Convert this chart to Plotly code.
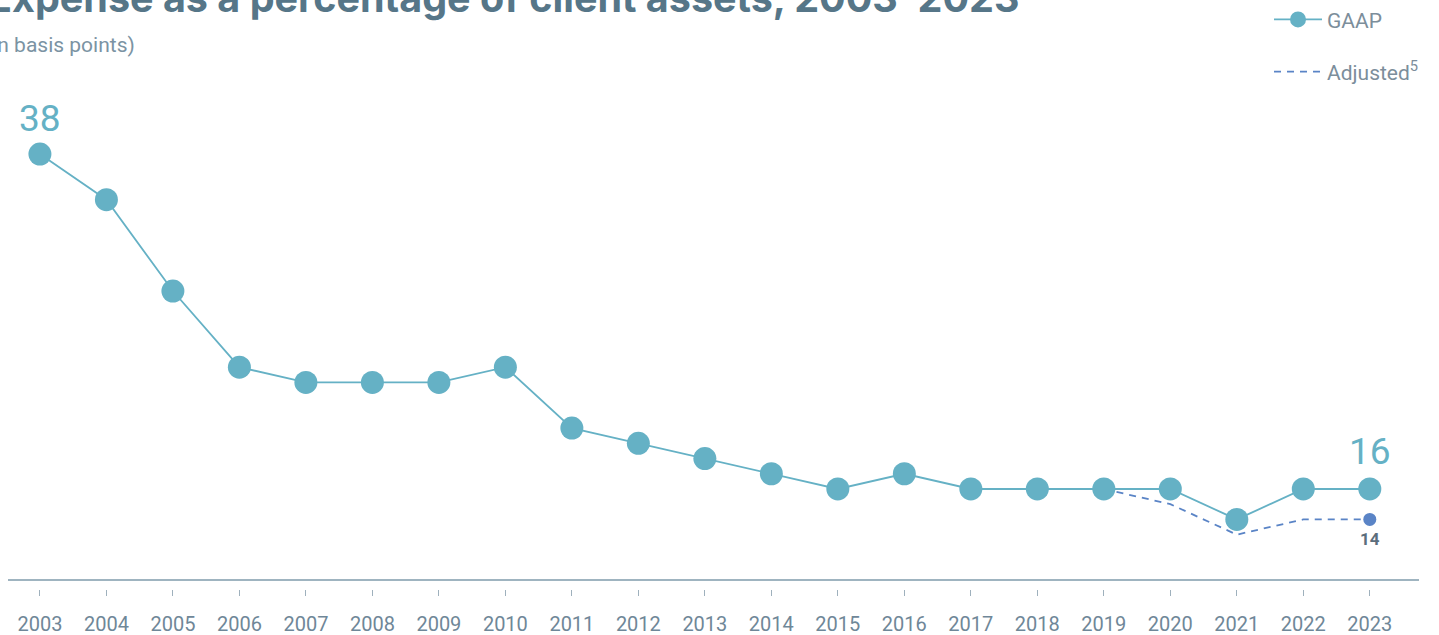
import plotly.graph_objects as go

years = list(range(2003, 2024))
gaap = [38, 35, 29, 24, 23, 23, 23, 24, 20, 19, 18, 17, 16, 17, 16, 16, 16, 16, 14, 16, 16]
adj_years = [2019, 2020, 2021, 2022, 2023]
adjusted = [16, 15, 13, 14, 14]

TEAL = "#65b1c5"
BLUE = "#5a84c6"
AXIS = "#7f9bab"
TXT = "#6f8798"
TITLE = "#567688"
FONT = "Roboto"

fig = go.Figure()
fig.add_trace(go.Scatter(
    x=adj_years, y=adjusted, mode="lines", name="Adjusted<sup>5</sup>",
    line=dict(color=BLUE, width=1.8, dash="7px,6px"), legendgroup="b", legendrank=2,
))
fig.add_trace(go.Scatter(
    x=[adj_years[-1]], y=[adjusted[-1]], mode="markers", showlegend=False,
    marker=dict(color=BLUE, size=13),
))
fig.add_trace(go.Scatter(
    x=years, y=gaap, mode="lines+markers", name="GAAP",
    line=dict(color=TEAL, width=1.8), marker=dict(color=TEAL, size=23),
    legendgroup="a", legendrank=1,
))

fig.add_annotation(x=years[0], y=gaap[0], text=str(gaap[0]), showarrow=False,
                   yshift=36, font=dict(family=FONT, size=37, color=TEAL))
fig.add_annotation(x=years[-1], y=gaap[-1], text=str(gaap[-1]), showarrow=False,
                   yshift=37, font=dict(family=FONT, size=37, color=TEAL))
fig.add_annotation(x=adj_years[-1], y=adjusted[-1], text="<b>%d</b>" % adjusted[-1], showarrow=False,
                   yshift=-20, font=dict(family=FONT, size=17, color="#5b6e7c"))

fig.add_annotation(xref="paper", yref="paper", x=-0.0156, y=1.1554, xanchor="left", yanchor="bottom",
                   text="<b>Expense as a percentage of client assets, 2003–2023</b>", showarrow=False,
                   font=dict(family="Inter", size=39.5, color=TITLE))
fig.add_annotation(xref="paper", yref="paper", x=-0.0178, y=1.1125, xanchor="left", yanchor="middle",
                   text="(in basis points)", showarrow=False,
                   font=dict(family=FONT, size=21, color="#7b93a3"))

fig.add_shape(type="line", xref="paper", yref="paper", x0=0, x1=1, y0=0.0184, y1=0.0184,
              line=dict(color=AXIS, width=1.5))

fig.update_layout(
    width=1439, height=635,
    margin=dict(l=8, r=20, t=100, b=46, autoexpand=False),
    paper_bgcolor="white", plot_bgcolor="white",
    font=dict(family=FONT, color=TXT),
    xaxis=dict(range=[2002.52, 2023.74], tickmode="array", tickvals=years,
               ticktext=[str(y) for y in years], showgrid=False, zeroline=False,
               showline=False, ticks="outside", ticklen=6, tickwidth=1, tickcolor="#9fb1bd",
               tickfont=dict(family=FONT, size=20, color=TXT), ticklabelstandoff=11,
               automargin=False),
    yaxis=dict(range=[9.43, 41.55], visible=False, automargin=False),
    legend=dict(x=0.8937, y=1.206, xanchor="left", yanchor="top", traceorder="grouped",
                tracegroupgap=22, font=dict(family=FONT, size=21, color="#7c8e9b"),
                bgcolor="rgba(0,0,0,0)", itemwidth=48),
)

fig.write_html("out.html")
